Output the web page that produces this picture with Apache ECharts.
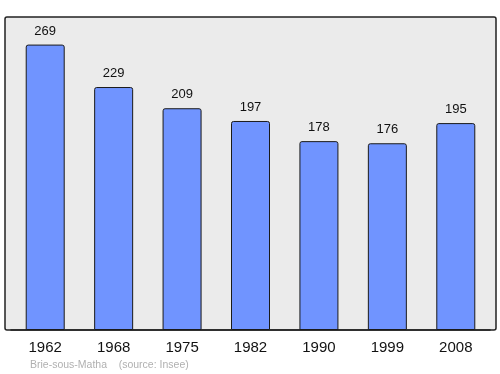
<!DOCTYPE html>
<html><head><meta charset="utf-8">
<script src="https://cdn.jsdelivr.net/npm/echarts@6/dist/echarts.min.js"></script>
<style>html,body{margin:0;padding:0;background:#fff}#c{width:500px;height:374px}</style>
</head><body><div id="c"></div>
<script>
const years = ['1962','1968','1975','1982','1990','1999','2008'];
const population = [269,229,209,197,178,176,195];
const footer = 'Brie-sous-Matha    (source: Insee)';

const chart = echarts.init(document.getElementById('c'), null, {renderer:'canvas'});
chart.setOption({
  animation:false,
  backgroundColor:'#fff',
  graphic:[
    {type:'rect', z:-10, shape:{x:5,y:17,width:491,height:313,r:2}, style:{fill:'#ebebeb', stroke:'#222', lineWidth:1.5}},
    {type:'text', left:30, top:360, style:{text:footer, fill:'#b0b0b0', font:'10.5px "Liberation Sans", Arial, sans-serif'}}
  ],
  grid:{left:11, right:10, top:17, bottom:44},
  xAxis:{type:'category', data:years,
    axisLine:{show:true, lineStyle:{color:'#222', width:1.5}},
    axisTick:{show:false},
    axisLabel:{color:'#111', fontSize:15, margin:10, fontFamily:'Liberation Sans, Arial, sans-serif'}},
  yAxis:{type:'value', min:0, max:295, show:false, splitLine:{show:false}},
  series:[{type:'bar', data:population, barWidth:39,
    itemStyle:{color:'#7094ff', borderColor:'#1a1a1a', borderWidth:1, borderRadius:[2,2,0,0]},
    label:{show:true, position:'top', distance:7, color:'#111', fontSize:13, fontFamily:'Liberation Sans, Arial, sans-serif'}}]
});
</script></body></html>
